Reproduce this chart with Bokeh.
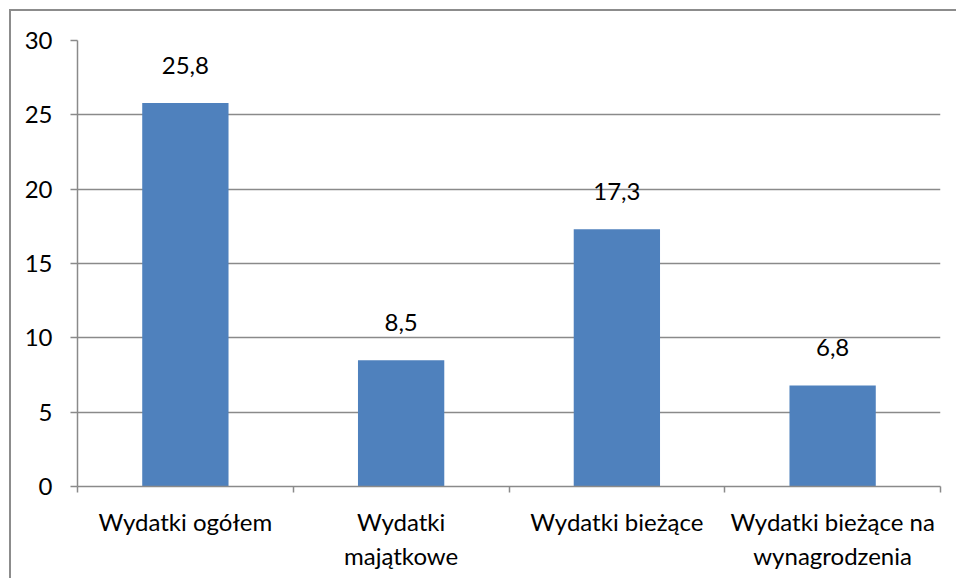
from bokeh.plotting import figure
from bokeh.models import (Range1d, LinearAxis, FixedTicker, ColumnDataSource, LabelSet)
from bokeh.core.properties import value
from bokeh.embed import file_html
from bokeh.resources import INLINE

categories = ["Wydatki ogółem", "Wydatki majątkowe", "Wydatki bieżące",
              "Wydatki bieżące na wynagrodzenia"]
values = [25.8, 8.5, 17.3, 6.8]
value_labels = ["25,8", "8,5", "17,3", "6,8"]
label_line1 = ["Wydatki ogółem", "Wydatki", "Wydatki bieżące", "Wydatki bieżące na"]
label_line2 = ["", "majątkowe", "", "wynagrodzenia"]
y_ticks = [0, 5, 10, 15, 20, 25, 30]

FONT = "Lato"
FS = "24px"
GRID = "#8a8a8a"
BORDER = "#8c8c8c"

n = len(categories)
centers = [i + 0.5 for i in range(n)]
edges = list(range(n + 1))
src = ColumnDataSource(dict(x=centers, val=values, lab=value_labels))

p = figure(width=956, height=578, x_range=Range1d(0, n),
           y_range=Range1d(0, 30), output_backend="svg", toolbar_location=None,
           x_axis_location=None, y_axis_location="left",
           min_border_left=77, min_border_right=16, min_border_top=40,
           min_border_bottom=92)
p.outline_line_color = None
p.background_fill_color = None
p.border_fill_color = None
grad = f"linear-gradient({BORDER},{BORDER})"
p.styles = {
    "background-color": "white",
    "background-image": f"{grad}, {grad}",
    "background-size": "2px 100%, 100% 2px",
    "background-position": "9px 9px, 9px 9px",
    "background-repeat": "no-repeat",
}

p.vbar(x="x", top="val", width=0.4, source=src, color="#4F81BD", line_color=None)

labels = LabelSet(x="x", y="val", text="lab", source=src, text_align="center",
                  text_baseline="bottom", y_offset=29, text_font=value(FONT),
                  text_font_size=value(FS), text_color="black")
p.add_layout(labels)

# y axis
ya = p.yaxis[0]
ya.ticker = FixedTicker(ticks=y_ticks)
ya.axis_line_color = GRID
ya.axis_line_width = 1.5
ya.major_tick_line_color = GRID
ya.major_tick_line_width = 1.5
ya.major_tick_out = 7
ya.major_tick_in = 0
ya.minor_tick_line_color = None
ya.major_label_standoff = 18
ya.major_label_text_font = FONT
ya.major_label_text_font_size = FS
ya.major_label_text_color = "black"

p.xgrid.visible = False
p.ygrid.ticker = FixedTicker(ticks=y_ticks[1:])
p.ygrid.grid_line_color = GRID
p.ygrid.grid_line_width = 1.5

# x axis: first label line, with boundary ticks as minor ticks
xa = LinearAxis(ticker=FixedTicker(ticks=centers, minor_ticks=edges))
xa.major_label_overrides = {c: t for c, t in zip(centers, label_line1)}
xa.axis_line_color = GRID
xa.axis_line_width = 1.5
xa.major_tick_line_color = None
xa.major_tick_out = 0
xa.major_tick_in = 0
xa.minor_tick_line_color = GRID
xa.minor_tick_line_width = 1.5
xa.minor_tick_out = 6
xa.minor_tick_in = 0
xa.major_label_standoff = 14
xa.major_label_text_font = FONT
xa.major_label_text_font_size = FS
xa.major_label_text_color = "black"
p.add_layout(xa, "below")

# second label line
c2 = [c for c, t in zip(centers, label_line2) if t]
t2 = [t for t in label_line2 if t]
xa2 = LinearAxis(ticker=FixedTicker(ticks=c2))
xa2.major_label_overrides = {c: t for c, t in zip(c2, t2)}
xa2.axis_line_color = None
xa2.major_tick_line_color = None
xa2.minor_tick_line_color = None
xa2.major_tick_out = 0
xa2.major_tick_in = 0
xa2.major_label_standoff = 2
xa2.major_label_text_font = FONT
xa2.major_label_text_font_size = FS
xa2.major_label_text_color = "black"
p.add_layout(xa2, "below")

open("out.html", "w").write(file_html(p, INLINE))
